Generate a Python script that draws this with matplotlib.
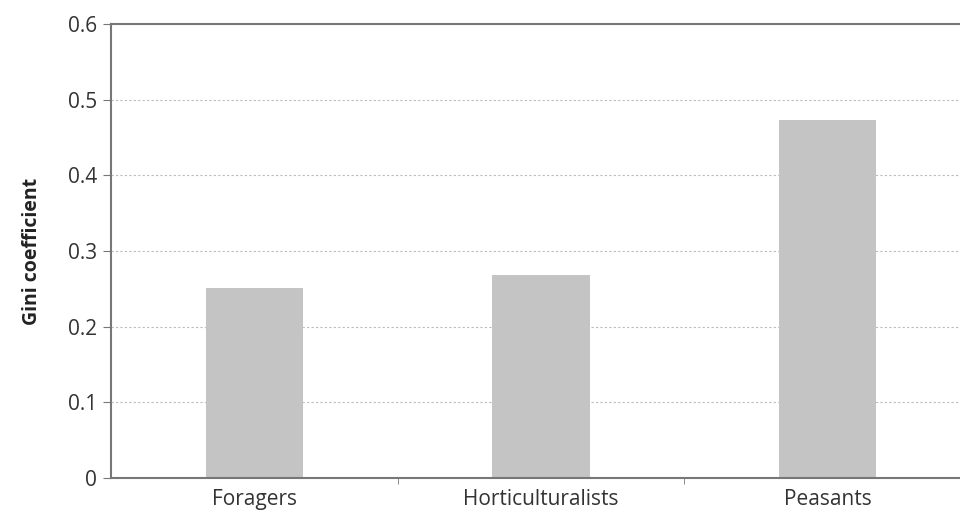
import matplotlib
matplotlib.use("Agg")
import matplotlib.pyplot as plt
import numpy as np

# ================= DATA =================
categories = ["Foragers", "Horticulturalists", "Peasants"]
gini = [0.251, 0.268, 0.473]
y_ticks = [0, 0.1, 0.2, 0.3, 0.4, 0.5, 0.6]
y_tick_labels = ["0", "0.1", "0.2", "0.3", "0.4", "0.5", "0.6"]
# ========================================

plt.rcParams['font.family'] = ['Open Sans', 'DejaVu Sans']

fig = plt.figure(figsize=(9.6, 5.12), dpi=100)
# axes runs a little past the right edge, like the original crop
ax = fig.add_axes([111 / 960, 34 / 512, 860 / 960, 454 / 512])

x = np.arange(len(categories))
ax.bar(x, gini, width=0.34, color='#c4c4c4', zorder=2)

ax.set_xlim(-0.5, len(categories) - 0.5)
ax.set_ylim(0, 0.6)
ax.set_yticks(y_ticks)
ax.set_yticklabels(y_tick_labels, fontsize=15, color='#333333')

# category labels centred, ticks between categories
ax.set_xticks(x)
ax.set_xticklabels(categories, fontsize=15, color='#333333')
ax.tick_params(axis='x', length=0, pad=8)
ax.set_xticks([0.5, 1.5], minor=True)
ax.tick_params(axis='x', which='minor', length=4, color='#777777', direction='out')
ax.tick_params(axis='y', length=6, color='#777777', direction='out', pad=4)

ax.grid(axis='y', linestyle=(0, (2, 2)), color='#bbbbbb', linewidth=0.8, zorder=0)

for side in ['left', 'bottom', 'top']:
    ax.spines[side].set_color('#777777')
    ax.spines[side].set_linewidth(1.5)
ax.spines['right'].set_visible(False)

ax.set_ylabel("Gini coefficient", fontsize=14, fontweight='bold', color='#222222')
ax.yaxis.set_label_coords(-69 / 860, 0.5)

fig.savefig("out.png", dpi=100)
